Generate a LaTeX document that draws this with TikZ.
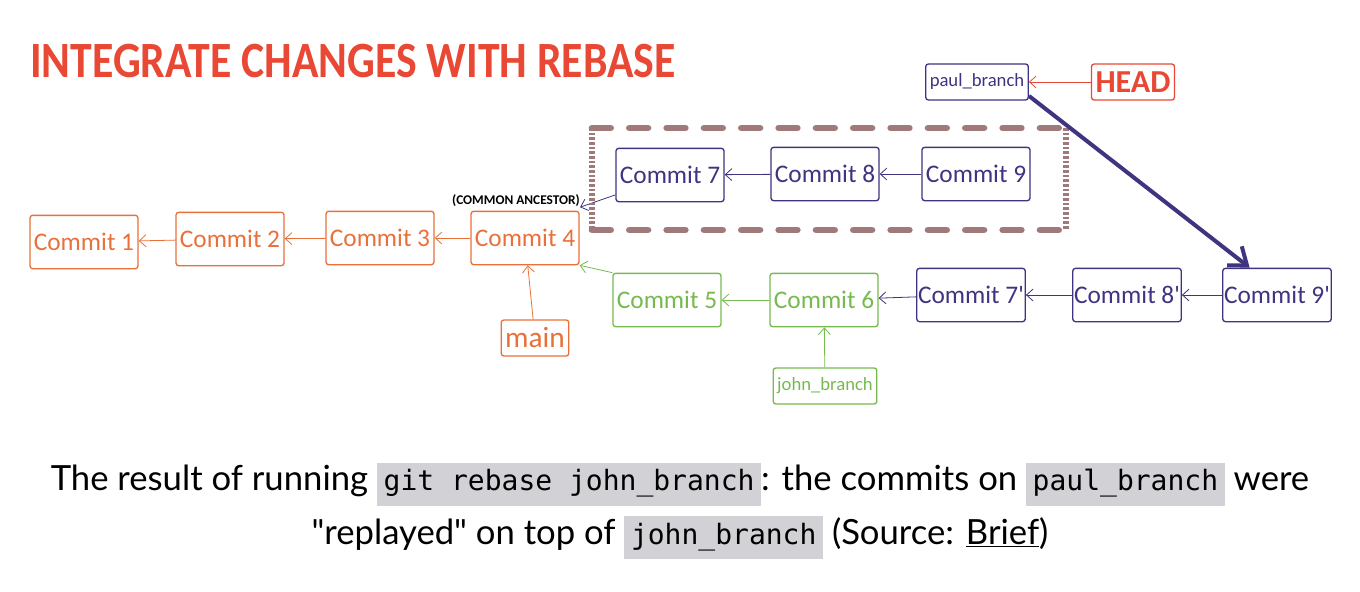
\documentclass[tikz,border=0pt]{standalone}
\usepackage{fontspec}
\usepackage{graphicx}
\setmainfont{Lato}
\setmonofont{DejaVu Sans Mono}
\newfontfamily\sketchfont{Carlito}
\usetikzlibrary{arrows.meta}
\definecolor{maincol}{RGB}{232,112,58}
\definecolor{johncol}{RGB}{118,186,78}
\definecolor{paulcol}{RGB}{62,52,128}
\definecolor{headcol}{RGB}{232,72,52}
\definecolor{framecol}{RGB}{160,122,122}
\definecolor{codegray}{RGB}{210,210,214}
\newcommand{\gitcode}[1]{{\setlength{\fboxsep}{5pt}\colorbox{codegray}{\fontsize{21}{21}\ttfamily\strut #1}}}

\begin{document}
\begin{tikzpicture}[x=0.75pt,y=-0.75pt,
  commit/.style={draw, rounded corners=2pt, line width=1pt, minimum width=81pt, minimum height=40pt,
                 inner sep=1pt, font=\sketchfont\fontsize{19}{19}\selectfont},
  branch/.style={draw, rounded corners=2pt, line width=1pt, inner sep=3pt, minimum height=27pt,
                 font=\sketchfont\fontsize{14}{14}\selectfont},
  arr/.style={-{Straight Barb[length=5pt,width=9pt]}, line width=0.6pt}]
\useasboundingbox (0,0) rectangle (1360,592);

% title
\node[anchor=west, text=headcol, inner sep=0pt] (title) at (30,61)
  {\resizebox{484pt}{25pt}{\sketchfont\bfseries INTEGRATE CHANGES WITH REBASE}};

% main line
\node[commit, maincol] (c1) at (84,242) {Commit 1};
\node[commit, maincol] (c2) at (230,239) {Commit 2};
\node[commit, maincol] (c3) at (380,238) {Commit 3};
\node[commit, maincol] (c4) at (525,238) {Commit 4};
\node[branch, maincol, font=\sketchfont\fontsize{22}{22}\selectfont] (main) at (535,338) {main};
\draw[arr, maincol] (c2) -- (c1);
\draw[arr, maincol] (c3) -- (c2);
\draw[arr, maincol] (c4) -- (c3);
\draw[arr, maincol] (main) -- (c4);

% old commits of paul_branch
\node[commit, paulcol] (c7) at (670,175) {Commit 7};
\node[commit, paulcol] (c8) at (825,174) {Commit 8};
\node[commit, paulcol] (c9) at (976,174) {Commit 9};
\draw[arr, paulcol] (c8) -- (c7);
\draw[arr, paulcol] (c9) -- (c8);
\node[anchor=east, inner sep=0pt, font=\sketchfont\bfseries\fontsize{10}{10}\selectfont] (anc) at (580,201) {(COMMON ANCESTOR)};
\draw[arr, paulcol] (c7.200) -- (anc.south east);

% frame round the old commits
\draw[framecol, line width=5pt, line cap=round, dash pattern=on 14pt off 14pt] (592,128) -- (1066,128);
\draw[framecol, line width=5pt, line cap=round, dash pattern=on 14pt off 14pt] (592,230) -- (1066,230);
\draw[framecol, line width=5pt, dash pattern=on 2pt off 1.5pt] (592,128) -- (592,230);
\draw[framecol, line width=5pt, dash pattern=on 2pt off 1.5pt] (1066,128) -- (1066,230);

% john_branch
\node[commit, johncol] (c5) at (667,300) {Commit 5};
\node[commit, johncol] (c6) at (824,300) {Commit 6};
\node[branch, johncol] (john) at (825,386) {john\_branch};
\draw[arr, johncol] (c5.north west) -- (c4.south east);
\draw[arr, johncol] (c6) -- (c5);
\draw[arr, johncol] (john) -- (c6);

% replayed commits
\node[commit, paulcol] (c7p) at (971,295) {Commit 7'};
\node[commit, paulcol] (c8p) at (1127,295) {Commit 8'};
\node[commit, paulcol] (c9p) at (1277,295) {Commit 9'};
\draw[arr, paulcol] (c7p) -- (c6);
\draw[arr, paulcol] (c8p) -- (c7p);
\draw[arr, paulcol] (c9p) -- (c8p);

% pointers
\node[branch, paulcol] (paul) at (977,82) {paul\_branch};
\node[branch, headcol, font=\sketchfont\bfseries\fontsize{24}{24}\selectfont] (head) at (1133,82) {HEAD};
\draw[arr, headcol] (head) -- (paul);
\draw[paulcol, line width=3pt, -{Straight Barb[length=12pt,width=18pt]}] (paul.-15) -- (c9p.135);

% caption
\node[align=center, font=\fontsize{26}{40}\selectfont, inner sep=0pt] (caption) at (680,511)
  {The result of running \gitcode{git rebase john\_branch}: the commits on \gitcode{paul\_branch} were\\
   \textquotedbl replayed\textquotedbl{} on top of \gitcode{john\_branch} (Source: \underline{Brief})};
\end{tikzpicture}
\end{document}
